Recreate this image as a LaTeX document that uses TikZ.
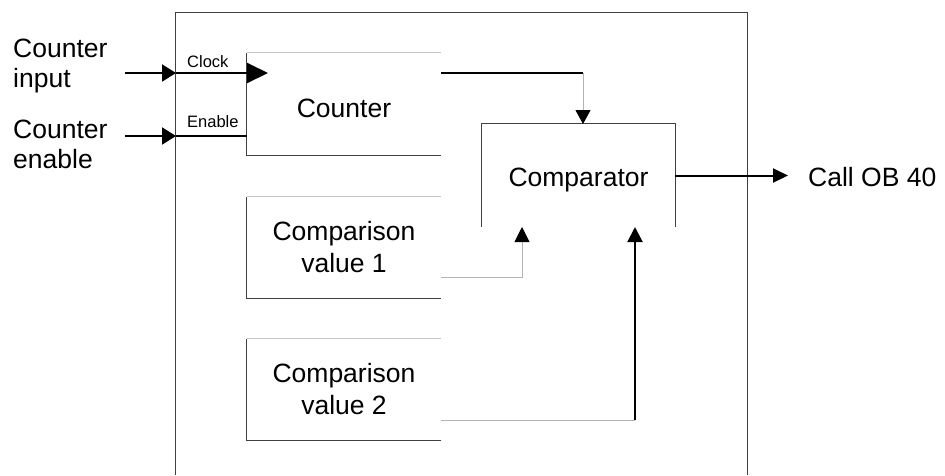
\documentclass[tikz,border=0pt]{standalone}
\usepackage{fontspec}
\setmainfont{Liberation Sans}
\usetikzlibrary{arrows.meta,calc}
\definecolor{edgedark}{HTML}{404040}
\definecolor{edgelight}{HTML}{C4C4C4}
\definecolor{conngray}{HTML}{B4B4B4}
\begin{document}
\begin{tikzpicture}[x=1pt,y=-1pt,
  blk/.style={draw=none, minimum width=194pt, inner sep=0pt, align=center,
    font=\fontsize{26.5}{32}\selectfont},
  lbl/.style={inner sep=0pt, align=left, font=\fontsize{26.5}{30}\selectfont},
  small/.style={inner sep=0pt, font=\fontsize{16.5}{20}\selectfont},
  darkedge/.style={draw=edgedark, line width=1.3pt},
  lightedge/.style={draw=edgelight, line width=1pt},
  bline/.style={draw=black, line width=2pt},
  gline/.style={draw=conngray, line width=1pt}]
\useasboundingbox (0,0) rectangle (945,475);

% outer system box (open at the bottom)
\node[minimum width=571pt, minimum height=462pt, inner sep=0pt] (sys) at (461.5,244) {};
\draw[darkedge] (sys.south west) -- (sys.north west) -- (sys.north east) -- (sys.south east);

% blocks (open on the right)
\node[blk, minimum height=102pt, text height=27pt] (cnt) at (344,104) {Counter};
\node[blk, minimum height=101pt] (val1) at (344,247.5) {Comparison\\value 1};
\node[blk, minimum height=101pt] (val2) at (344,389.5) {Comparison\\value 2};
\foreach \b in {cnt,val1,val2}{
  \draw[lightedge] (\b.north west) -- (\b.north east);
  \draw[darkedge] (\b.north west) -- (\b.south west) -- (\b.south east);
}
% comparator (open at the bottom)
\node[blk, minimum width=193pt, minimum height=103pt, text height=28pt] (cmp) at (578.5,175.5) {Comparator};
\draw[darkedge] (cmp.south west) -- (cmp.north west) -- (cmp.north east) -- (cmp.south east);

% outside labels
\node[lbl, anchor=base west] (in1) at (13,87) {Counter\\input};
\node[lbl, anchor=base west] (in2) at (13,168) {Counter\\enable};
\node[small, anchor=base west] (clklbl) at (187,67) {Clock};
\node[small, anchor=base west] (enlbl) at (187,127) {Enable};
\node[lbl, anchor=base west] (call) at (808,186) {Call OB 40};

% ports
\coordinate (src1) at (125,73);
\coordinate (src2) at (125,136);
\coordinate (clkin) at (176,73);
\coordinate (enin) at (176,136);
\coordinate (clktip) at (268,73);
\coordinate (en) at (247,136);
\coordinate (cntout) at (441,73);
\coordinate (cmpin0) at (583,124);
\coordinate (cmpin1) at (522,227);
\coordinate (cmpin2) at (635,227);
\coordinate (v1out) at (441,277);
\coordinate (v2out) at (441,420);
\coordinate (callpt) at (788,175.5);

% connectors
\draw[bline, -{Triangle[length=14pt,width=17pt]}] (src1) -- (clkin);
\draw[bline, -{Triangle[length=21pt,width=20pt]}] (clkin) -- (clktip);
\draw[bline, -{Triangle[length=14pt,width=17pt]}] (src2) -- (enin);
\draw[bline] (enin) -- (en);
\draw[bline] (cntout) -- (cntout -| cmpin0);
\draw[gline, -{Triangle[length=14pt,width=15pt,black]}] (cntout -| cmpin0) -- (cmpin0);
\draw[gline, -{Triangle[length=15pt,width=15pt,black]}] (v1out) -| (cmpin1);
\draw[gline] (v2out) -- (v2out -| cmpin2);
\draw[bline, -{Triangle[length=15pt,width=15pt]}] (v2out -| cmpin2) -- (cmpin2);
\draw[bline, -{Triangle[length=15pt,width=14pt]}] (cmp.east) -- (callpt);
\end{tikzpicture}
\end{document}
